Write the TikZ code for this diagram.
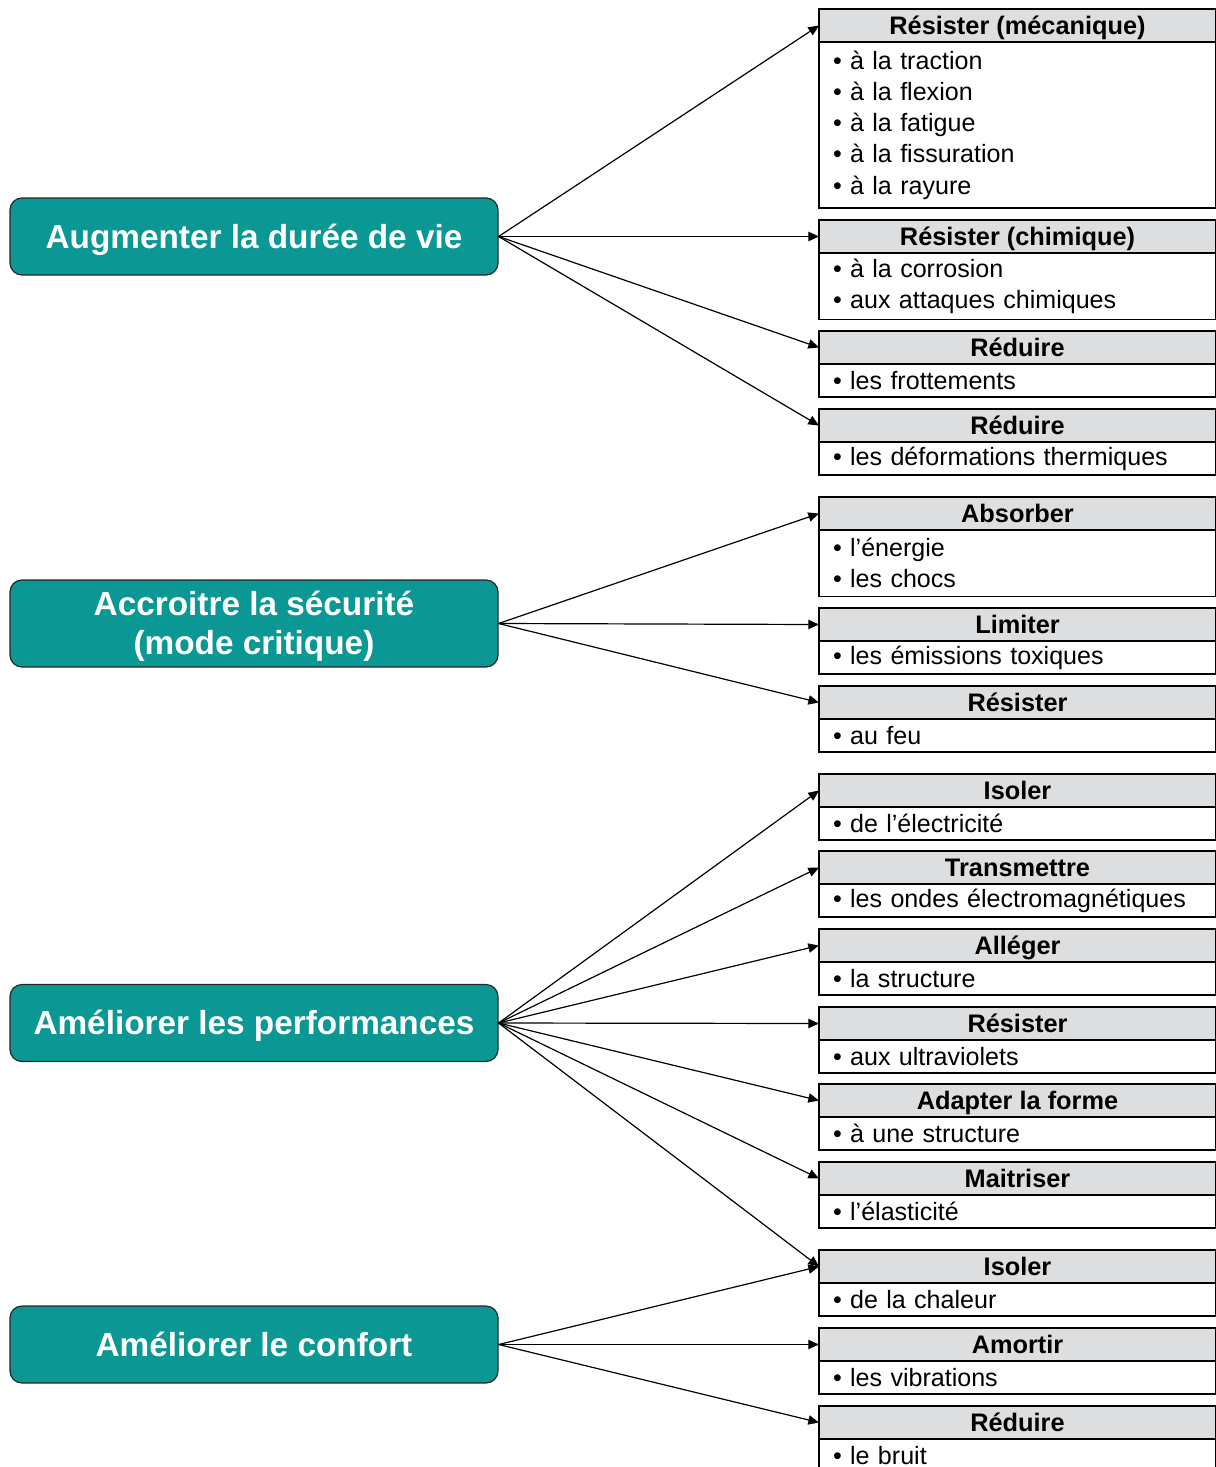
\documentclass[tikz,border=0pt]{standalone}
\usepackage{fontspec}
\setmainfont{Liberation Sans}
\usetikzlibrary{arrows.meta}
\definecolor{goalteal}{RGB}{11,152,149}
\definecolor{headgray}{RGB}{221,222,224}
\tikzset{
  goal/.style={draw=black!85, line width=0.9pt, fill=goalteal, rounded corners=9pt,
    text=white, font=\fontsize{25}{29.25}\selectfont\bfseries, text depth=1pt,
    minimum width=366pt, minimum height=57.75pt, align=center},
  head/.style={draw, line width=1.1pt, fill=headgray, anchor=north west, outer sep=0pt,
    minimum width=297.75pt, minimum height=24.75pt, inner sep=0pt,
    text height=17.6pt, text depth=3.8pt,
    font=\fontsize{19}{23.4}\selectfont\bfseries},
  body/.style={draw, line width=1.1pt, anchor=north west, outer sep=0pt, text width=276.75pt,
    inner xsep=10.5pt, inner ysep=0pt, minimum height=#1*24.9pt, align=left,
    font=\fontsize{18.8}{23.4}\selectfont},
  link/.style={-{Triangle[length=8pt,width=7pt]}, line width=0.9pt},
}
\begin{document}
\begin{tikzpicture}[x=0.75pt,y=-0.75pt]
  \useasboundingbox (0,0) rectangle (1215,1467);
  % objectifs
  \node[goal] (vie) at (254,236.5) {Augmenter la durée de vie};
  \node[goal, minimum height=65.25pt] (secu) at (254,623.5) {Accroitre la sécurité\\(mode critique)};
  \node[goal] (perf) at (254,1023) {Améliorer les performances};
  \node[goal] (conf) at (254,1344.5) {Améliorer le confort};
  % fonctions
  \node[head] (meca) at (819,9) {Résister (mécanique)};
  \node[body=5] (meca-l) at (meca.south west) {• à la traction\\• à la flexion\\• à la fatigue\\• à la fissuration\\• à la rayure};
  \node[head] (chim) at (819,220) {Résister (chimique)};
  \node[body=2] (chim-l) at (chim.south west) {• à la corrosion\\• aux attaques chimiques};
  \node[head] (frot) at (819,331) {Réduire};
  \node[body=1] (frot-l) at (frot.south west) {• les frottements};
  \node[head] (therm) at (819,409) {Réduire};
  \node[body=1] (therm-l) at (therm.south west) {• les déformations thermiques};
  \node[head] (absor) at (819,497) {Absorber};
  \node[body=2] (absor-l) at (absor.south west) {• l’énergie\\• les chocs};
  \node[head] (limit) at (819,608) {Limiter};
  \node[body=1] (limit-l) at (limit.south west) {• les émissions toxiques};
  \node[head] (feu) at (819,686) {Résister};
  \node[body=1] (feu-l) at (feu.south west) {• au feu};
  \node[head] (elec) at (819,774) {Isoler};
  \node[body=1] (elec-l) at (elec.south west) {• de l’électricité};
  \node[head] (onde) at (819,851) {Transmettre};
  \node[body=1] (onde-l) at (onde.south west) {• les ondes électromagnétiques};
  \node[head] (alleg) at (819,929) {Alléger};
  \node[body=1] (alleg-l) at (alleg.south west) {• la structure};
  \node[head] (uv) at (819,1007) {Résister};
  \node[body=1] (uv-l) at (uv.south west) {• aux ultraviolets};
  \node[head] (forme) at (819,1084) {Adapter la forme};
  \node[body=1] (forme-l) at (forme.south west) {• à une structure};
  \node[head] (elast) at (819,1162) {Maitriser};
  \node[body=1] (elast-l) at (elast.south west) {• l’élasticité};
  \node[head] (chal) at (819,1250) {Isoler};
  \node[body=1] (chal-l) at (chal.south west) {• de la chaleur};
  \node[head] (vibr) at (819,1328) {Amortir};
  \node[body=1] (vibr-l) at (vibr.south west) {• les vibrations};
  \node[head] (bruit) at (819,1406) {Réduire};
  \node[body=1] (bruit-l) at (bruit.south west) {• le bruit};
  % liens
  \draw[link] (vie.east) -- (meca.west);
  \draw[link] (vie.east) -- (chim.west);
  \draw[link] (vie.east) -- (frot.west);
  \draw[link] (vie.east) -- (therm.west);
  \draw[link] (secu.east) -- (absor.west);
  \draw[link] (secu.east) -- (limit.west);
  \draw[link] (secu.east) -- (feu.west);
  \draw[link] (perf.east) -- (elec.west);
  \draw[link] (perf.east) -- (onde.west);
  \draw[link] (perf.east) -- (alleg.west);
  \draw[link] (perf.east) -- (uv.west);
  \draw[link] (perf.east) -- (forme.west);
  \draw[link] (perf.east) -- (elast.west);
  \draw[link] (perf.east) -- (chal.west);
  \draw[link] (conf.east) -- (chal.west);
  \draw[link] (conf.east) -- (vibr.west);
  \draw[link] (conf.east) -- (bruit.west);
\end{tikzpicture}
\end{document}
